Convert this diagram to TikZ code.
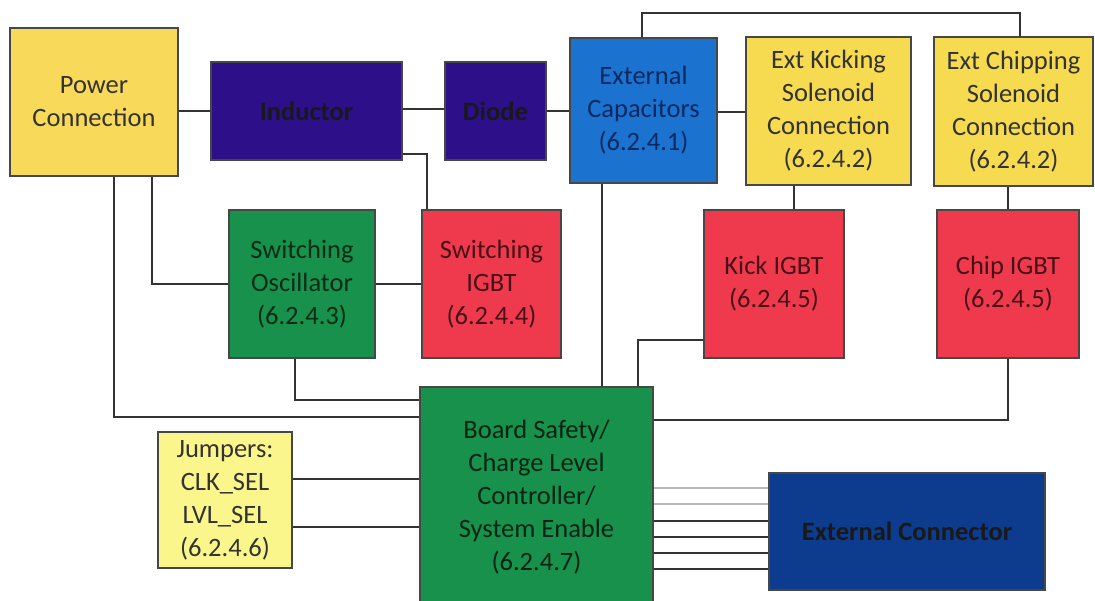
\documentclass[tikz,border=0pt]{standalone}
\usepackage{fontspec}
\setmainfont{Carlito}
\usetikzlibrary{calc}
\definecolor{pcyel}{HTML}{F8D95A}
\definecolor{solyel}{HTML}{F6DA4F}
\definecolor{jmpyel}{HTML}{FBF68C}
\definecolor{indigo}{HTML}{2E0F8A}
\definecolor{capblue}{HTML}{1C73CF}
\definecolor{grn}{HTML}{17914B}
\definecolor{rd}{HTML}{EF3A4E}
\definecolor{conblue}{HTML}{0D3B8E}
\definecolor{wire}{HTML}{333333}
\tikzset{
  blk/.style={draw=wire!90, line width=1.5pt, inner sep=0pt, align=center,
    font=\fontsize{26.5}{33}\selectfont},
  dark/.style={text=black!90, font=\fontsize{26.5}{33}\selectfont\bfseries},
  wirel/.style={draw=wire, line width=2pt},
  lightwire/.style={draw=gray!55, line width=2pt}
}
\begin{document}
\begin{tikzpicture}[x=1pt,y=-1pt]
\useasboundingbox (0,0) rectangle (1095,601);
\clip (0,0) rectangle (1095,601);
\fill[white] (0,0) rectangle (1095,601);
% boxes
\node[blk, fill=pcyel, text=black!80, minimum width=168pt, minimum height=148pt] (pc) at (94,102) {Power\\Connection};
\node[blk, dark, fill=indigo, minimum width=191pt, minimum height=98pt] (ind) at (306.5,111) {Inductor};
\node[blk, dark, fill=indigo, minimum width=101pt, minimum height=98pt] (dio) at (495.5,111) {Diode};
\node[blk, fill=capblue, text=conblue!70!black, minimum width=147pt, minimum height=145pt] (cap) at (643.5,110.5) {External\\Capacitors\\(6.2.4.1)};
\node[blk, fill=solyel, text=black!80, minimum width=165pt, minimum height=148pt] (ksol) at (828.5,111) {Ext Kicking\\Solenoid\\Connection\\(6.2.4.2)};
\node[blk, fill=solyel, text=black!80, minimum width=159pt, minimum height=149pt] (csol) at (1013.5,111.5) {Ext Chipping\\Solenoid\\Connection\\(6.2.4.2)};
\node[blk, fill=grn, text=grn!30!black, minimum width=146pt, minimum height=148pt] (osc) at (302,284) {Switching\\Oscillator\\(6.2.4.3)};
\node[blk, fill=rd, text=rd!30!black, minimum width=139pt, minimum height=148pt] (swigbt) at (491.5,284) {Switching\\IGBT\\(6.2.4.4)};
\node[blk, fill=rd, text=rd!30!black, minimum width=140pt, minimum height=148pt] (kigbt) at (774,284) {Kick IGBT\\(6.2.4.5)};
\node[blk, fill=rd, text=rd!30!black, minimum width=142pt, minimum height=148pt] (cigbt) at (1008,284) {Chip IGBT\\(6.2.4.5)};
\node[blk, fill=grn, text=grn!25!black, minimum width=233pt, minimum height=220pt] (board) at (536.5,497) {Board Safety/\\Charge Level\\Controller/\\System Enable\\(6.2.4.7)};
\node[blk, fill=jmpyel, text=black!80, minimum width=134pt, minimum height=136pt] (jump) at (225,500) {Jumpers:\\CLK\_SEL\\LVL\_SEL\\(6.2.4.6)};
\node[blk, dark, fill=conblue, minimum width=276pt, minimum height=117pt] (econ) at (907,531.5) {External Connector};
% top route point
\coordinate (topr) at (1020,13);
% connectors
\draw[wirel] (ind.west -| pc.east) -- (ind.west);
\draw[wirel] ([yshift=2pt]ind.east) -- ([yshift=2pt]dio.west);
\draw[wirel] (dio.east) -- (dio.east -| cap.west);
\draw[wirel] ([yshift=-1.5pt]cap.east) -- ([yshift=-1.5pt]cap.east -| ksol.west);
\draw[wirel] ([yshift=7pt]ind.south east) -| ([xshift=6pt]swigbt.north west);
\draw[wirel] ([xshift=58pt]pc.south) |- (osc.west);
\draw[wirel] (osc.east) -- (swigbt.west);
\draw[wirel] ([xshift=20pt]pc.south) |- ([yshift=80pt]board.west);
\draw[wirel] ([xshift=-7pt]osc.south) |- ([yshift=97pt]board.west);
\draw[wirel] ([xshift=-41.5pt]cap.south) -- ([xshift=-41.5pt]cap.south |- board.north);
\draw[wirel] ([yshift=-56pt]kigbt.west) -| ([xshift=101.5pt]board.north);
\draw[wirel] ([xshift=20pt]kigbt.north) -- ([xshift=20pt]kigbt.north |- ksol.south);
\draw[wirel] (cigbt.north) -- (cigbt.north |- csol.south);
\draw[wirel] (cigbt.south) |- ([yshift=77pt]board.east);
\draw[wirel] ([xshift=-1.5pt]cap.north) |- (topr) -- ([xshift=6.5pt]csol.north);
\draw[wirel] ([yshift=21pt]jump.east) -- ([yshift=21pt]jump.east -| board.west);
\draw[wirel] ([yshift=-27pt]jump.east) -- ([yshift=-27pt]jump.east -| board.west);
\foreach \s in {43.5,27.5}{
  \draw[lightwire] ([yshift=\s pt]econ.west -| board.east) -- ([yshift=\s pt]econ.west);
}
\foreach \s in {10.5,-5.5,-21.5,-37.5}{
  \draw[wirel] ([yshift=\s pt]econ.west -| board.east) -- ([yshift=\s pt]econ.west);
}
\end{tikzpicture}
\end{document}
